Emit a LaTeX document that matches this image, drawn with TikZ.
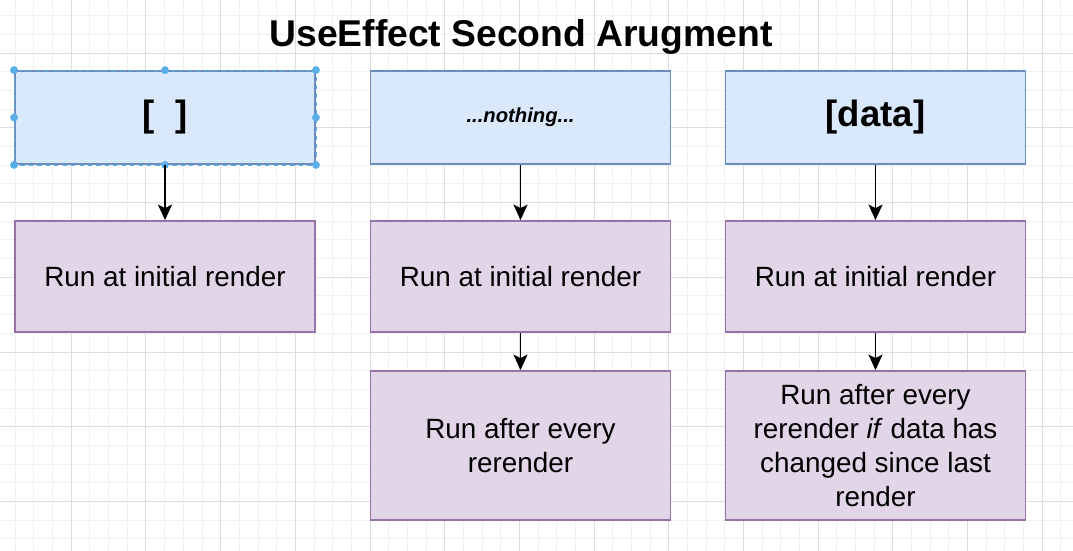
\documentclass[tikz,border=0pt]{standalone}
\usepackage{fontspec}
\setmainfont{Liberation Sans}
\usepackage{xcolor}
\usetikzlibrary{arrows.meta}

\definecolor{argfill}{HTML}{DAE8FC}
\definecolor{argline}{HTML}{6C8EBF}
\definecolor{runfill}{HTML}{E1D5E7}
\definecolor{runline}{HTML}{9673A6}
\definecolor{gridminor}{HTML}{F1F1F1}
\definecolor{gridmajor}{HTML}{DDDDDD}
\definecolor{handle}{HTML}{5AAEE8}

\begin{document}
\begin{tikzpicture}[x=0.025cm, y=-0.025cm,
    argbox/.style={draw=argline, fill=argfill, line width=1.3pt, minimum width=7.5cm, minimum height=2.325cm, inner sep=0pt},
    runbox/.style={draw=runline, fill=runfill, line width=1.3pt, minimum width=7.5cm, inner sep=0pt, align=center, font=\fontsize{19.8}{24}\selectfont},
    flow/.style={-{Stealth[length=11pt, width=10pt, inset=2.5pt]}, line width=1.4pt}]
    \useasboundingbox (0,0) rectangle (1073,551);

    % Grid
    \begin{scope}
        \clip (0,0) rectangle (1073,551);
        \foreach \i in {0,...,58}
            \draw[gridminor, line width=0.7pt] ({-3.37+\i*18.67},0) -- ({-3.37+\i*18.67},551);
        \foreach \j in {0,...,31}
            \draw[gridminor, line width=0.7pt] (0,{-21.4+\j*18.67}) -- (1073,{-21.4+\j*18.67});
        \foreach \i in {0,4,...,56}
            \draw[gridmajor, line width=0.7pt] ({-3.37+\i*18.67},0) -- ({-3.37+\i*18.67},551);
        \foreach \j in {0,4,...,28}
            \draw[gridmajor, line width=0.7pt] (0,{-21.4+\j*18.67}) -- (1073,{-21.4+\j*18.67});
    \end{scope}

    % Title
    \node[font=\bfseries\fontsize{26.5}{30}\selectfont, anchor=base] (title) at (521,47) {UseEffect Second Arugment};

    % Second argument
    \node[argbox, font=\bfseries\fontsize{26}{30}\selectfont] (a0) at (165,117.5) {[\hspace{0.56em}]};
    \node[argbox, font=\bfseries\itshape\fontsize{14.4}{17}\selectfont] (a1) at (520.5,117.5) {...nothing...};
    \node[argbox, font=\bfseries\fontsize{26}{30}\selectfont] (a2) at (875.5,117.5) {[data]};

    % Selection handles
    \draw[handle, dashed, line width=0.6pt] (a0.north west) rectangle (a0.south east);
    \foreach \a in {north west, north, north east, east, south east, south, south west, west}
        \fill[handle] (a0.\a) circle (2.8pt);

    % Initial render
    \node[runbox, minimum height=2.775cm] (r0) at (165,276.5) {Run at initial render};
    \node[runbox, minimum height=2.775cm] (r1) at (520.5,276.5) {Run at initial render};
    \node[runbox, minimum height=2.775cm] (r2) at (875.5,276.5) {Run at initial render};

    % Rerender
    \node[runbox, minimum height=3.725cm] (u1) at (520.5,445.5) {Run after every\\rerender};
    \node[runbox, minimum height=3.725cm] (u2) at (875.5,445.5) {Run after every\\rerender \textit{if} data has\\changed since last\\render};

    % Arrows
    \draw[flow] (a0) -- (r0);
    \draw[flow] (a1) -- (r1);
    \draw[flow] (a2) -- (r2);

    \draw[flow] (r1) -- (u1);
    \draw[flow] (r2) -- (u2);
\end{tikzpicture}
\end{document}
